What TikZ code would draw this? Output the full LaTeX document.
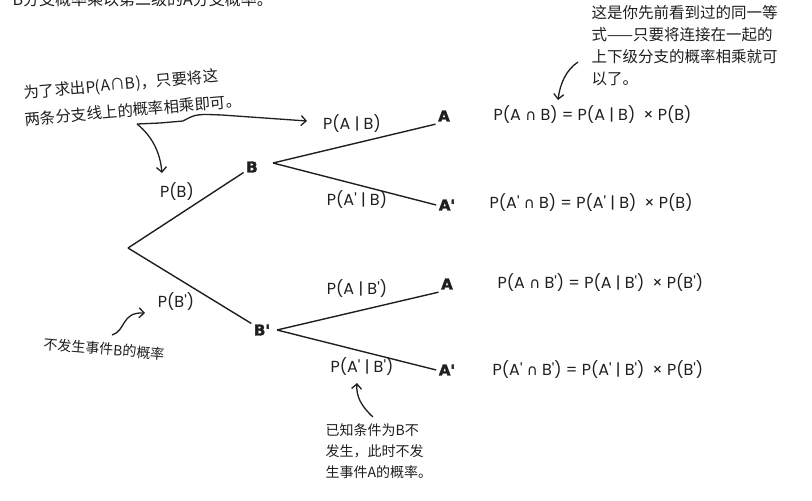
\documentclass[tikz,border=0pt]{standalone}
\usepackage{fontspec}
\setmainfont{Poppins}
\newfontfamily\cjk{Noto Sans CJK SC}
\newfontfamily\symf{DejaVu Sans}
\newfontfamily\heavy{DejaVu Sans}[BoldFeatures={FakeBold=2.5}]
\usetikzlibrary{arrows.meta}
\newcommand{\pr}{\textquotesingle}
\newcommand{\capp}{{\symf\fontsize{15}{15}\selectfont ∩}}
\tikzset{
  leaf/.style={font=\fontsize{15}{15}\selectfont\heavy\bfseries, inner sep=2pt},
  prob/.style={font=\fontsize{16}{16}\selectfont, inner sep=1pt},
  eqn/.style={font=\fontsize{16}{16}\selectfont, anchor=west, inner sep=0pt},
  note/.style={font=\fontsize{15.5}{22}\selectfont\cjk, align=left, inner sep=0pt},
  hand/.style={line width=1.3pt, -{Straight Barb[length=5pt,width=10pt]}},
}
\begin{document}
\begin{tikzpicture}[x=1pt, y=-1pt, line width=1.4pt, color=black!88]
\useasboundingbox (0,0) rectangle (812,501);
% cut-off line of the page above
\node[note, font=\fontsize{16}{16}\selectfont\cjk, anchor=base west] (top) at (12,5) {B分支概率乘以第二级的A分支概率。};
% the tree
\coordinate (root) at (128,248);
\node[leaf] (B) at (252,167) {B};
\node[leaf] (Bn) at (262,330) {B\pr};
\node[leaf] (A1) at (444,116) {A};
\node[leaf] (A2) at (447,205) {A\pr};
\node[leaf] (A3) at (447,284) {A};
\node[leaf] (A4) at (447,370) {A\pr};
\coordinate (Bv) at (273,163);
\coordinate (Bnv) at (277,330);
\draw (root) -- (B);
\draw (root) -- (Bn);
\draw (Bv) -- (A1.south west);
\draw (Bv) -- (A2.west);
\draw (Bnv) -- (A3.south west);
\draw (Bnv) -- (A4.west);
% branch probabilities
\node[prob] (pB) at (177,192) {P(B)};
\node[prob] (pBn) at (176,302) {P(B\pr)};
\node[prob] (pAB) at (352,124) {P(A | B)};
\node[prob] (pAnB) at (357,200) {P(A\pr\ | B)};
\node[prob] (pABn) at (357,289) {P(A | B\pr)};
\node[prob] (pAnBn) at (362,367) {P(A\pr\ | B\pr)};
% products
\node[eqn] (eq1) at (493,115) {P(A \capp{} B) = P(A | B)\enspace× P(B)};
\node[eqn] (eq2) at (489,203) {P(A\pr\ \capp{} B) = P(A\pr\ | B)\enspace× P(B)};
\node[eqn] (eq3) at (497,283) {P(A \capp{} B\pr) = P(A | B\pr)\enspace× P(B\pr)};
\node[eqn] (eq4) at (492,370) {P(A\pr\ \capp{} B\pr) = P(A\pr\ | B\pr)\enspace× P(B\pr)};
% notes
\node[note, rotate=5] (n1a) at (121,85) {为了求出P(A∩B)，只要将这};
\node[note, rotate=5] (n1b) at (133,110) {两条分支线上的概率相乘即可。};
\node[note, anchor=north west] (n2) at (591,5) {这是你先前看到过的同一等\\式——只要将连接在一起的\\上下级分支的概率相乘就可\\以了。};
\node[note, font=\fontsize{14}{14}\selectfont\cjk, rotate=-5] (n3) at (104,349) {不发生事件B的概率};
\node[note, font=\fontsize{14}{21}\selectfont\cjk, anchor=north west] (n4) at (325,423) {已知条件为B不\\发生，此时不发\\生事件A的概率。};
% hand-drawn arrows
\coordinate (n1s) at (137,124);
\coordinate (tB) at (162,173);
\coordinate (tAB) at (307,121);
\draw[hand] (n1s) .. controls (152,136) and (160,152) .. (tB);
\draw[hand] (n1s) -- (160,123) -- (183,121) .. controls (196,114) .. (222,115) -- (tAB);
\coordinate (n2s) at (578,62);
\coordinate (n2t) at (558,100);
\draw[hand] (n2s) .. controls (566,70) and (560,84) .. (n2t);
\coordinate (n3s) at (112,335);
\coordinate (n3t) at (145,313);
\draw[hand] (n3s) .. controls (126,331) and (121,312) .. (n3t);
\coordinate (n4s) at (373,417);
\coordinate (n4t) at (357,383);
\draw[hand] (n4s) .. controls (361,406) and (356,396) .. (n4t);
\end{tikzpicture}
\end{document}
